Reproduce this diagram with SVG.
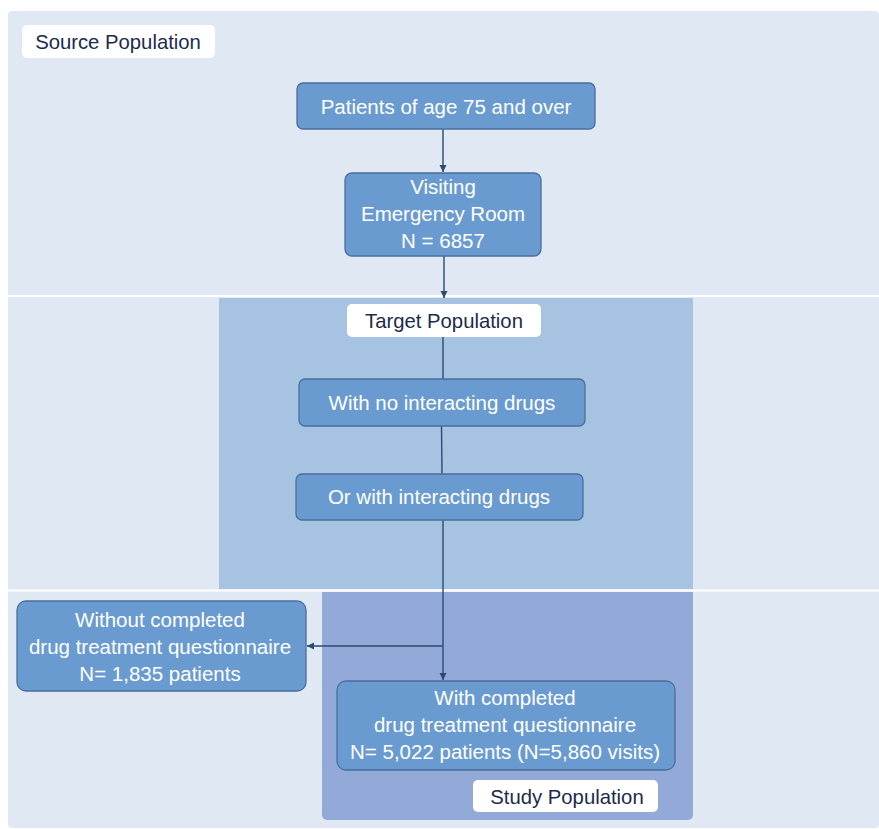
<svg xmlns="http://www.w3.org/2000/svg" width="879" height="829" viewBox="0 0 879 829">
<defs>
<style>
.node rect{fill:#6a9bd0;stroke:#4a6e9c;stroke-width:1.3}
.node text{fill:#ffffff;font-family:"Liberation Sans",Arial,sans-serif;font-size:20.5px;text-anchor:middle}
.lbl rect{fill:#ffffff}
.lbl text{fill:#1c2b4d;font-family:"Liberation Sans",Arial,sans-serif;font-size:20.3px;text-anchor:middle}
.conn line,.conn path{stroke:#2c4a72;stroke-width:1.4;fill:none}
</style>
<marker id="ah" markerWidth="8" markerHeight="8" refX="7" refY="4" orient="auto" markerUnits="userSpaceOnUse">
<path d="M0,0.5 L7,4 L0,7.5 Z" fill="#2c4a72"/>
</marker>
</defs>
<rect x="0" y="0" width="879" height="829" fill="#ffffff"/>
<g id="regions">
<rect x="8" y="11" width="871" height="817" rx="4" fill="#dfe8f3"/>
<rect x="219" y="298" width="474" height="291" fill="#a6c3e1"/>
<path d="M322,592 H693 V815 a5,5 0 0 1 -5,5 H327 a5,5 0 0 1 -5,-5 Z" fill="#93aad8"/>
<line x1="8" y1="296" x2="879" y2="296" stroke="#ffffff" stroke-width="2"/>
<line x1="8" y1="590.5" x2="879" y2="590.5" stroke="#ffffff" stroke-width="2"/>
</g>
<g id="source-label" class="lbl">
<rect x="22" y="25" width="193" height="33" rx="5"/>
<text x="118" y="48.5">Source Population</text>
</g>
<g id="target-label" class="lbl">
<rect x="347" y="304" width="194" height="33" rx="5"/>
<text x="444" y="327.5">Target Population</text>
</g>
<g id="study-label" class="lbl">
<rect x="473" y="780" width="185" height="32" rx="5"/>
<text x="567" y="803.5">Study Population</text>
</g>
<g class="conn" id="connectors">
<line x1="443" y1="129" x2="443" y2="172" marker-end="url(#ah)"/>
<line x1="444" y1="256" x2="444" y2="298" marker-end="url(#ah)"/>
<line x1="443" y1="337" x2="443" y2="379"/>
<line x1="441.5" y1="426" x2="442" y2="474"/>
<line x1="443" y1="520" x2="443" y2="680" marker-end="url(#ah)"/>
<line x1="443" y1="646" x2="307" y2="646" marker-end="url(#ah)"/>
</g>
<g id="patients" class="node">
<rect x="297" y="83" width="298" height="46" rx="6"/>
<text x="446" y="113.5">Patients of age 75 and over</text>
</g>
<g id="visiting" class="node">
<rect x="345" y="173" width="196" height="83" rx="7"/>
<text x="443" y="193.5">Visiting</text>
<text x="443" y="220.5">Emergency Room</text>
<text x="443" y="247.5">N = 6857</text>
</g>
<g id="no-interacting" class="node">
<rect x="299" y="379" width="286" height="47" rx="6"/>
<text x="442" y="409.5">With no interacting drugs</text>
</g>
<g id="with-interacting" class="node">
<rect x="296" y="474" width="287" height="46" rx="6"/>
<text x="439" y="503.5">Or with interacting drugs</text>
</g>
<g id="without-completed" class="node">
<rect x="17" y="601" width="289" height="90" rx="9"/>
<text x="160" y="626.5">Without completed</text>
<text x="160" y="653.5">drug treatment questionnaire</text>
<text x="160" y="680.5">N= 1,835 patients</text>
</g>
<g id="with-completed" class="node">
<rect x="337" y="681" width="338" height="89" rx="9"/>
<text x="505" y="704.5">With completed</text>
<text x="505" y="731.5">drug treatment questionnaire</text>
<text x="505" y="758.5">N= 5,022 patients (N=5,860 visits)</text>
</g>
</svg>
